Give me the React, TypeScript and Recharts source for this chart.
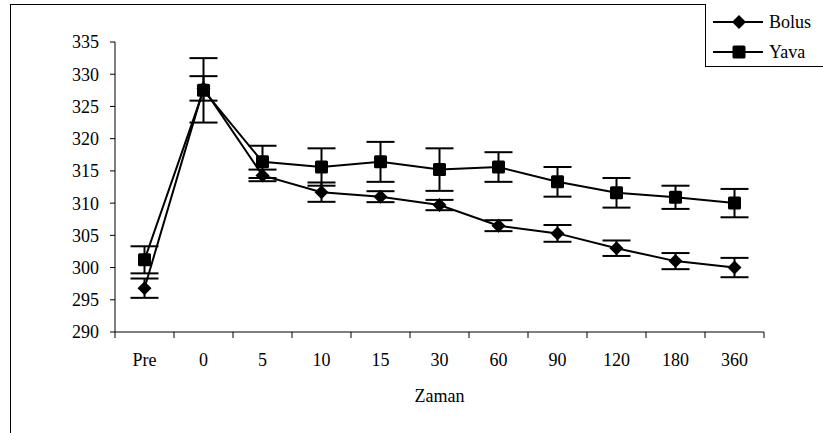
import React from 'react';
import { LineChart, Line, XAxis, YAxis, ErrorBar } from 'recharts';

const categories = ['Pre', '0', '5', '10', '15', '30', '60', '90', '120', '180', '360'];
const bolus = [296.8, 327.8, 314.3, 311.7, 311.0, 309.7, 306.5, 305.3, 303.0, 301.0, 300.0];
const bolusErr = [1.5, 1.9, 0.9, 1.5, 0.85, 0.8, 0.85, 1.3, 1.2, 1.25, 1.5];
const yava = [301.2, 327.5, 316.4, 315.6, 316.4, 315.2, 315.6, 313.3, 311.6, 310.9, 310.0];
const yavaErr = [2.1, 5.0, 2.5, 2.9, 3.1, 3.3, 2.3, 2.3, 2.3, 1.8, 2.2];
const yTicks = [290, 295, 300, 305, 310, 315, 320, 325, 330, 335];
const seriesNames = ['Bolus', 'Yava'];

const data = categories.map((name, i) => ({
  name,
  bolus: bolus[i],
  bolusErr: bolusErr[i],
  yava: yava[i],
  yavaErr: yavaErr[i],
}));

const FONT = "'Liberation Serif', 'Times New Roman', Times, serif";
const FS = 18;
const PLOT_W = 649;
const BAND_HALF = PLOT_W / categories.length / 2;

const Diamond = (props: any) => {
  const { cx, cy } = props;
  if (cx == null || cy == null) return null;
  const s = 7;
  return <path d={`M${cx},${cy - s}L${cx + s},${cy}L${cx},${cy + s}L${cx - s},${cy}Z`} fill="#000" />;
};

const Square = (props: any) => {
  const { cx, cy } = props;
  if (cx == null || cy == null) return null;
  const s = 6.5;
  return <rect x={cx - s} y={cy - s} width={s * 2} height={s * 2} rx={1.5} fill="#000" />;
};

// tick marks sit between categories, labels in the middle
const XTick = (props: any) => {
  const { x, y, payload, index, visibleTicksCount } = props;
  const last = index === visibleTicksCount - 1;
  return (
    <g>
      <line x1={x - BAND_HALF} y1={y} x2={x - BAND_HALF} y2={y + 6} stroke="#000" strokeWidth={1} />
      {last && <line x1={x + BAND_HALF} y1={y} x2={x + BAND_HALF} y2={y + 6} stroke="#000" strokeWidth={1} />}
      <text x={x} y={y + 34} textAnchor="middle" fontSize={FS} fontFamily={FONT} fill="#000">
        {payload.value}
      </text>
    </g>
  );
};

const LegendIcon = ({ kind }: { kind: string }) => (
  <svg width={50} height={16} style={{ display: 'block' }}>
    <line x1={0} y1={8} x2={50} y2={8} stroke="#000" strokeWidth={2} />
    {kind === 'Bolus' ? (
      <path d="M26,1L33,8L26,15L19,8Z" fill="#000" />
    ) : (
      <rect x={19.5} y={1.5} width={13} height={13} rx={1.5} fill="#000" />
    )}
  </svg>
);

export default function App() {
  return (
    <div
      style={{
        position: 'absolute',
        left: 0,
        top: 0,
        width: 823,
        height: 433,
        overflow: 'hidden',
        background: '#fff',
        fontFamily: FONT,
      }}
    >
      <div
        style={{
          position: 'absolute',
          left: 10,
          top: 4,
          width: 900,
          height: 600,
          borderLeft: '1px solid #000',
          borderTop: '1px solid #000',
        }}
      />
      <LineChart
        width={823}
        height={433}
        data={data}
        margin={{ top: 42, right: 59, bottom: 41, left: 0 }}
        style={{ position: 'absolute', left: 0, top: 0 }}
      >
        <XAxis
          dataKey="name"
          interval={0}
          height={60}
          padding={{ left: BAND_HALF, right: BAND_HALF }}
          tickSize={0}
          tickMargin={0}
          tick={<XTick />}
          axisLine={{ stroke: '#000', strokeWidth: 1 }}
          tickLine={false}
          label={{ value: 'Zaman', position: 'insideBottom', offset: -10, fill: '#000', fontSize: FS, fontFamily: FONT }}
        />
        <YAxis
          width={115}
          domain={[290, 335]}
          ticks={yTicks}
          interval={0}
          allowDataOverflow
          tickSize={5}
          tickMargin={11}
          axisLine={{ stroke: '#000', strokeWidth: 1 }}
          tickLine={{ stroke: '#000', strokeWidth: 1 }}
          tick={{ fill: '#000', fontSize: FS, fontFamily: FONT }}
        />
        <Line
          dataKey="bolus"
          name={seriesNames[0]}
          stroke="#000"
          strokeWidth={2}
          dot={<Diamond />}
          activeDot={false}
          isAnimationActive={false}
        >
          <ErrorBar dataKey="bolusErr" width={14} strokeWidth={2} stroke="#000" direction="y" isAnimationActive={false} />
        </Line>
        <Line
          dataKey="yava"
          name={seriesNames[1]}
          stroke="#000"
          strokeWidth={2}
          dot={<Square />}
          activeDot={false}
          isAnimationActive={false}
        >
          <ErrorBar dataKey="yavaErr" width={14} strokeWidth={2} stroke="#000" direction="y" isAnimationActive={false} />
        </Line>
      </LineChart>
      <div
        style={{
          position: 'absolute',
          left: 705,
          top: 4,
          width: 200,
          height: 63,
          borderLeft: '1px solid #000',
          borderBottom: '1px solid #000',
          background: '#fff',
          paddingTop: 3,
          boxSizing: 'border-box',
        }}
      >
        {seriesNames.map((n) => (
          <div key={n} style={{ display: 'flex', alignItems: 'center', height: 30, fontSize: FS, paddingLeft: 7 }}>
            <LegendIcon kind={n} />
            <span style={{ marginLeft: 6 }}>{n}</span>
          </div>
        ))}
      </div>
    </div>
  );
}
